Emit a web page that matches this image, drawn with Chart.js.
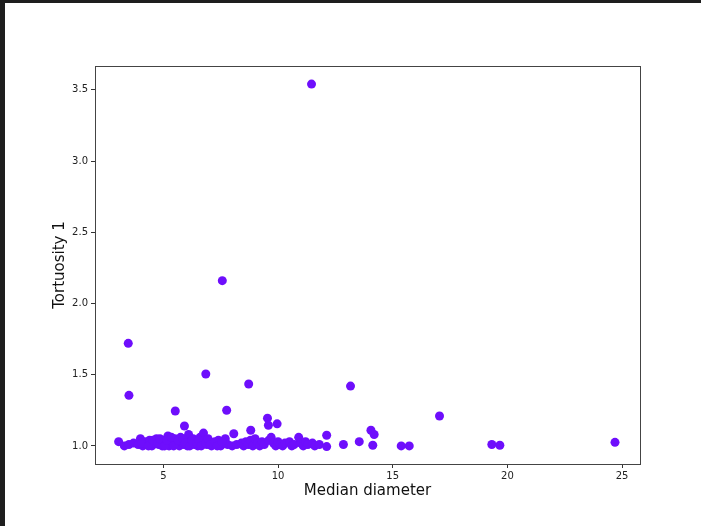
<!DOCTYPE html>
<html>
<head>
<meta charset="utf-8">
<script src="https://cdn.jsdelivr.net/npm/chart.js@4"></script>
<style>
  html, body { margin: 0; padding: 0; background: #1e1e1e; }
  #wrap { position: absolute; left: 5px; top: 3px; width: 696px; height: 523px; background: #fff; }
  canvas { display: block; }
</style>
</head>
<body>
<div id="wrap"><canvas id="c" width="696" height="523"></canvas></div>
<script>
// Median diameter (x) and tortuosity (y) for each sample
const medianDiameter = [
  3.05, 3.3, 3.5, 3.7, 3.9, 4.0, 4.1, 4.2, 4.3, 4.4, 4.5, 4.6, 4.7, 4.8, 4.9, 4.95,
  5.0, 5.1, 5.2, 5.25, 5.3, 5.4, 5.5, 5.6, 5.7, 5.75, 5.8, 5.9, 6.0, 6.05, 6.1, 6.2,
  6.3, 6.35, 6.4, 6.5, 6.6, 6.7, 6.75, 6.8, 6.9, 7.0, 7.1, 7.2, 7.3, 7.4, 7.5, 7.6,
  7.7, 7.8, 8.0, 8.2, 8.4, 8.5, 8.6, 8.7, 8.8, 8.9, 9.0, 9.1, 9.2, 9.3, 9.4, 9.6,
  9.7, 9.8, 9.9, 10.0, 10.1, 10.2, 10.3, 10.5, 10.6, 10.7, 10.9, 11.0, 11.1, 11.2,
  11.3, 11.5, 11.6, 11.8,
  4.05, 4.35, 4.55, 4.75, 4.85, 5.05, 5.15, 5.35, 5.45, 5.65, 5.85, 5.95, 6.15, 6.25,
  6.45, 6.55, 6.65, 6.85, 6.95, 7.05, 7.25, 7.35, 7.55,
  11.46, 7.57, 3.47, 3.5, 5.52, 6.85, 8.72, 13.16, 7.76, 9.54, 9.58, 9.96, 5.92,
  8.07, 8.81, 12.12, 12.12, 12.85, 13.54, 14.05, 14.19, 14.13, 15.37, 15.72, 17.04,
  19.32, 19.67, 24.69
];
const tortuosity = [
  1.03, 1.00, 1.01, 1.02, 1.01, 1.05, 1.00, 1.03, 1.01, 1.04, 1.00, 1.02, 1.05, 1.01, 1.03, 1.00,
  1.04, 1.02, 1.07, 1.00, 1.03, 1.01, 1.05, 1.02, 1.00, 1.06, 1.03, 1.01, 1.04, 1.00, 1.08, 1.02,
  1.05, 1.01, 1.03, 1.00, 1.06, 1.02, 1.09, 1.04, 1.01, 1.03, 1.00, 1.02, 1.01, 1.04, 1.00, 1.02,
  1.05, 1.01, 1.00, 1.01, 1.02, 1.00, 1.03, 1.01, 1.04, 1.00, 1.05, 1.02, 1.00, 1.03, 1.01, 1.04,
  1.06, 1.02, 1.00, 1.03, 1.01, 1.00, 1.02, 1.03, 1.00, 1.01, 1.06, 1.02, 1.00, 1.03,
  1.01, 1.02, 1.00, 1.01,
  1.02, 1.00, 1.04, 1.02, 1.05, 1.00, 1.04, 1.06, 1.00, 1.04, 1.05, 1.02, 1.00, 1.04,
  1.02, 1.04, 1.00, 1.02, 1.05, 1.01, 1.03, 1.00, 1.03,
  3.54, 2.16, 1.72, 1.355, 1.245, 1.505, 1.435, 1.42, 1.25, 1.195, 1.145, 1.155, 1.14,
  1.085, 1.11, 1.075, 0.995, 1.01, 1.03, 1.11, 1.08, 1.005, 1.0, 1.0, 1.21,
  1.01, 1.005, 1.025
];
const xTicks = [5, 10, 15, 20, 25];
const yTicks = [1.0, 1.5, 2.0, 2.5, 3.0, 3.5];

const points = medianDiameter.map((x, i) => ({ x: x, y: tortuosity[i] }));

// Four-sided frame around the plotting area
const frame = {
  id: 'frame',
  afterDraw(chart) {
    const a = chart.chartArea, ctx = chart.ctx;
    ctx.save();
    ctx.strokeStyle = '#444';
    ctx.lineWidth = 1;
    ctx.strokeRect(Math.round(a.left) + 0.5, Math.round(a.top) + 0.5,
                   Math.round(a.right - a.left), Math.round(a.bottom - a.top));
    ctx.restore();
  }
};

const tickFont = { family: 'DejaVu Sans', size: 10 };
const titleFont = { family: 'DejaVu Sans', size: 15 };

new Chart(document.getElementById('c'), {
  type: 'scatter',
  data: {
    datasets: [{
      data: points,
      backgroundColor: 'rgb(110, 14, 252)',
      borderWidth: 0,
      pointRadius: 4.5,
      pointHoverRadius: 4.5
    }]
  },
  options: {
    responsive: false,
    animation: false,
    events: [],
    layout: { padding: { left: 46, top: 63, right: 61, bottom: 26 } },
    plugins: { legend: { display: false }, tooltip: { enabled: false } },
    scales: {
      x: {
        type: 'linear',
        min: 2.02, max: 25.78,
        afterBuildTicks(s) { s.ticks = xTicks.map(v => ({ value: v })); },
        afterFit(s) { s.height = 36; },
        grid: { drawOnChartArea: false, tickLength: 4, tickColor: '#333' },
        border: { display: false },
        ticks: { font: tickFont, color: '#222', padding: 2, maxRotation: 0,
                 callback: v => String(v) },
        title: { display: true, text: 'Median diameter', font: titleFont, color: '#111', padding: 0 }
      },
      y: {
        type: 'linear',
        min: 0.873, max: 3.667,
        afterBuildTicks(s) { s.ticks = yTicks.map(v => ({ value: v })); },
        afterFit(s) { s.width = 44; },
        grid: { drawOnChartArea: false, tickLength: 4, tickColor: '#333' },
        border: { display: false },
        ticks: { font: tickFont, color: '#222', padding: 3,
                 callback: v => Number(v).toFixed(1) },
        title: { display: true, text: 'Tortuosity 1', font: titleFont, color: '#111', padding: 0 }
      }
    }
  },
  plugins: [frame]
});
</script>
</body>
</html>
